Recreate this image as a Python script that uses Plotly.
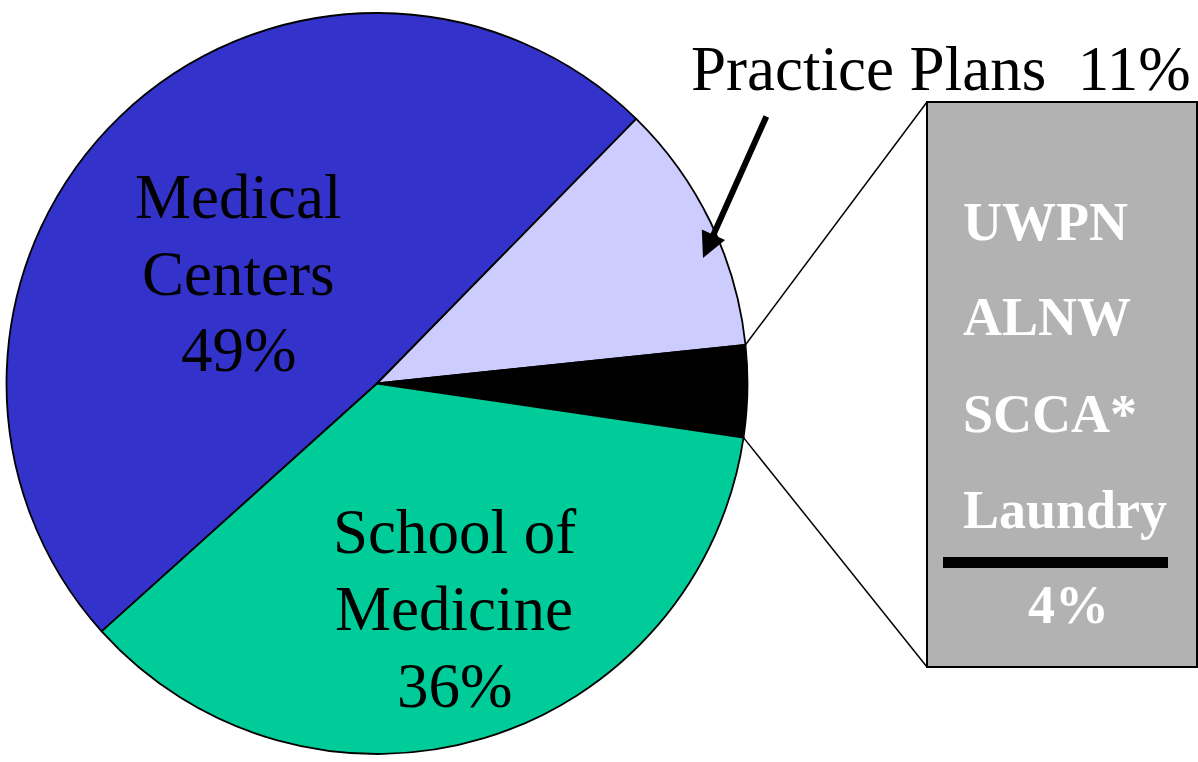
import math
import plotly.graph_objects as go

W, H = 1198, 762

# ---- data ----
labels = ["Medical Centers", "Practice Plans", "Other", "School of Medicine"]
values = [49, 11, 4, 36]
colors = ["#3333CC", "#CCCCFF", "#000000", "#00CC99"]
other_items = ["UWPN", "ALNW", "SCCA*", "Laundry"]

# ---- geometry (pixels) ----
CX, CY, R = 377, 383.5, 370.5
ROT = 228
SERIF = "Liberation Serif, Times New Roman, serif"


def px(x):
    return x / W


def py(y):
    return 1 - y / H


fig = go.Figure()
fig.add_trace(go.Pie(
    labels=labels,
    values=values,
    sort=False,
    direction="clockwise",
    rotation=ROT,
    marker=dict(colors=colors, line=dict(color="#000000", width=1.8)),
    textinfo="none",
    hoverinfo="label+percent",
    showlegend=False,
    domain=dict(x=[px(CX - R), px(CX + R)], y=[py(CY + R), py(CY - R)]),
))

# corners of the "Other" slice, from the pie values
total = sum(values)
start = sum(values[:2]) / total * 360 + ROT
end = sum(values[:3]) / total * 360 + ROT


def corner(a):
    r = math.radians(a)
    return CX + R * math.sin(r), CY - R * math.cos(r)


(x1, y1), (x2, y2) = corner(start), corner(end)
BX0, BX1, BY0, BY1 = 927, 1197, 102, 667

shapes = [
    dict(type="line", xref="paper", yref="paper", x0=px(x1), y0=py(y1),
         x1=px(BX0), y1=py(BY0), line=dict(color="black", width=1.5)),
    dict(type="line", xref="paper", yref="paper", x0=px(x2), y0=py(y2),
         x1=px(BX0), y1=py(BY1), line=dict(color="black", width=1.5)),
    dict(type="rect", xref="paper", yref="paper", x0=px(BX0), x1=px(BX1),
         y0=py(BY1), y1=py(BY0), fillcolor="#B2B2B2",
         line=dict(color="black", width=2)),
    dict(type="rect", xref="paper", yref="paper", x0=px(943), x1=px(1168),
         y0=py(568), y1=py(557), fillcolor="black", line=dict(width=0)),
]

annotations = []


def text(t, x, y, size=63, color="black", xanchor="center"):
    annotations.append(dict(
        text=t, x=px(x), y=py(y), xref="paper", yref="paper",
        showarrow=False, xanchor=xanchor, yanchor="middle",
        font=dict(family=SERIF, size=size, color=color)))


# slice labels
for t, y in zip(["Medical", "Centers", f"{values[0]}%"], [197, 274, 350]):
    text(t, 238, y)
for t, y in zip(["School of", "Medicine", f"{values[3]}%"], [532, 609, 686]):
    text(t, 454, y)
text(f"Practice Plans\u00a0\u00a0{values[1]}%", 941, 69)

# breakdown box
for t, y in zip(other_items, [222, 317, 414, 510]):
    text(f"<b>{t}</b>", 961, y, size=54, color="white", xanchor="left")
text(f"<b>{values[2]}%</b>", 1068, 605, size=54, color="white")

# arrow to Practice Plans slice
annotations.append(dict(
    text="", x=px(703), y=py(258), xref="paper", yref="paper",
    showarrow=True, ax=64, ay=-143, arrowhead=2, arrowsize=0.85,
    arrowwidth=6, arrowcolor="black"))

fig.update_layout(
    width=W, height=H,
    margin=dict(l=0, r=0, t=0, b=0),
    paper_bgcolor="white", plot_bgcolor="white",
    shapes=shapes, annotations=annotations,
    showlegend=False,
)

fig.write_html(
    "out.html",
    config={"displayModeBar": False},
    post_script="document.body.style.margin='0';document.body.style.overflow='hidden';",
)
